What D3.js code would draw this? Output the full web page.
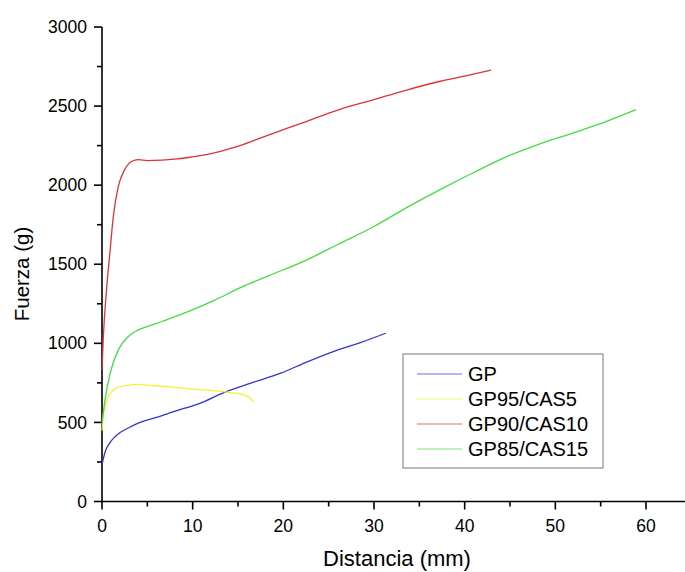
<!DOCTYPE html>
<html>
<head>
<meta charset="utf-8">
<script src="https://cdn.jsdelivr.net/npm/d3@7/dist/d3.min.js"></script>
<style>
  html, body { margin: 0; padding: 0; background: #fff; }
  svg { display: block; font-family: "Liberation Sans", Arial, sans-serif; }
</style>
</head>
<body>
<svg id="chart" width="685" height="572"></svg>
<script>
// Force vs. distance curves (Distancia in mm, Fuerza in g)
const seriesNames = ["GP", "GP95/CAS5", "GP90/CAS10", "GP85/CAS15"];
const seriesColors = ["#3434cc", "#f2f23a", "#dc3434", "#44dc44"];

const gpX = [0, 0.15, 0.4, 0.8, 1.3, 2, 3, 4.2, 6, 8, 10.8, 13.5, 16.5, 19.7, 22.5, 25.5, 28.5, 31.3];
const gpY = [235, 272, 322, 366, 402, 436, 468, 500, 532, 570, 621, 690, 750, 811, 880, 948, 1005, 1064];

const gp95X = [0, 0.1, 0.3, 0.6, 1, 1.5, 2.2, 3, 4, 5.5, 7.5, 10, 12, 14, 15.5, 16.2, 16.7];
const gp95Y = [448, 525, 595, 650, 690, 714, 728, 736, 740, 734, 725, 710, 702, 690, 676, 660, 630];

const gp90X = [0, 0.15, 0.5, 0.9, 1.25, 1.8, 2.5, 3.3, 4, 5, 6.6, 8, 9.5, 10.8, 12.5, 15.2, 18.5, 22.6, 26, 30, 33.5, 37.3, 40, 42.9];
const gp90Y = [833, 1043, 1338, 1592, 1803, 1992, 2098, 2151, 2161, 2155, 2158, 2164, 2175, 2187, 2206, 2250, 2320, 2404, 2475, 2541, 2600, 2657, 2690, 2727];

const gp85X = [0, 0.33, 0.9, 1.8, 2.9, 4, 5.2, 6.6, 8, 9.5, 12.5, 15.2, 18.5, 22.6, 26, 30, 33.5, 37.3, 41, 44.7, 48, 52, 55.5, 58.9];
const gp85Y = [490, 643, 811, 959, 1043, 1085, 1110, 1138, 1168, 1201, 1275, 1351, 1430, 1528, 1625, 1739, 1855, 1972, 2080, 2182, 2255, 2331, 2400, 2477];

const xTicks = [0, 10, 20, 30, 40, 50, 60];
const yTicks = [0, 500, 1000, 1500, 2000, 2500, 3000];

const seriesData = [
  d3.zip(gpX, gpY),
  d3.zip(gp95X, gp95Y),
  d3.zip(gp90X, gp90Y),
  d3.zip(gp85X, gp85Y)
];

const svg = d3.select("#chart");

const x = d3.scaleLinear().domain([0, 64.3]).range([102, 685]);
const y = d3.scaleLinear().domain([0, 3000]).range([501.5, 27]);

// Axes: major ticks with labels, unlabeled minor ticks in between
const xMinor = d3.range(5, 65, 10);
const yMinor = d3.range(250, 3000, 500);

const gx = svg.append("g").attr("transform", `translate(0,${y(0)})`);
gx.append("line").attr("x1", x(0)).attr("x2", 685).attr("stroke", "#000").attr("stroke-width", 1.6);
gx.selectAll(".maj").data(xTicks).join("line")
  .attr("x1", d => x(d)).attr("x2", d => x(d)).attr("y1", 0).attr("y2", 8)
  .attr("stroke", "#000").attr("stroke-width", 1.6);
gx.selectAll(".min").data(xMinor).join("line")
  .attr("x1", d => x(d)).attr("x2", d => x(d)).attr("y1", 0).attr("y2", 5)
  .attr("stroke", "#000").attr("stroke-width", 1.6);
gx.selectAll("text").data(xTicks).join("text")
  .attr("x", d => x(d)).attr("y", 30)
  .attr("text-anchor", "middle").attr("font-size", 17.5).attr("fill", "#000")
  .text(d => d);

const gy = svg.append("g").attr("transform", `translate(${x(0)},0)`);
gy.append("line").attr("y1", y(0) + 1).attr("y2", y(3000)).attr("stroke", "#000").attr("stroke-width", 1.6);
gy.selectAll(".maj").data(yTicks).join("line")
  .attr("x1", 0).attr("x2", -8).attr("y1", d => y(d)).attr("y2", d => y(d))
  .attr("stroke", "#000").attr("stroke-width", 1.6);
gy.selectAll(".min").data(yMinor).join("line")
  .attr("x1", 0).attr("x2", -5).attr("y1", d => y(d)).attr("y2", d => y(d))
  .attr("stroke", "#000").attr("stroke-width", 1.6);
gy.selectAll("text").data(yTicks).join("text")
  .attr("x", -15).attr("y", d => y(d)).attr("dy", "0.35em")
  .attr("text-anchor", "end").attr("font-size", 17.5).attr("fill", "#000")
  .text(d => d);

// Axis titles
svg.append("text")
  .attr("x", 397).attr("y", 566)
  .attr("text-anchor", "middle").attr("font-size", 22).attr("fill", "#000")
  .text("Distancia (mm)");
svg.append("text")
  .attr("transform", "translate(29,274) rotate(-90)")
  .attr("text-anchor", "middle").attr("font-size", 20.5).attr("fill", "#000")
  .text("Fuerza (g)");

// Curves
const line = d3.line().x(d => x(d[0])).y(d => y(d[1])).curve(d3.curveMonotoneX);
svg.append("g").selectAll("path").data(seriesData).join("path")
  .attr("d", line)
  .attr("fill", "none")
  .attr("stroke", (d, i) => seriesColors[i])
  .attr("stroke-width", 1.3)
  .attr("stroke-linejoin", "round");

// Legend
const legend = svg.append("g").attr("transform", "translate(403,354)");
legend.append("rect")
  .attr("x", 0).attr("y", 0).attr("width", 200).attr("height", 114)
  .attr("fill", "#fff").attr("stroke", "#777").attr("stroke-width", 1);
const items = legend.selectAll("g.item").data(seriesNames).join("g")
  .attr("class", "item")
  .attr("transform", (d, i) => `translate(0,${20 + i * 25})`);
items.append("line")
  .attr("x1", 14).attr("x2", 59).attr("y1", 0).attr("y2", 0)
  .attr("stroke", (d, i) => seriesColors[i]).attr("stroke-width", 1.2).attr("stroke-opacity", 0.7);
items.append("text")
  .attr("x", 65).attr("y", 0).attr("dy", "0.36em")
  .attr("font-size", 20).attr("fill", "#000")
  .text(d => d);
</script>
</body>
</html>
